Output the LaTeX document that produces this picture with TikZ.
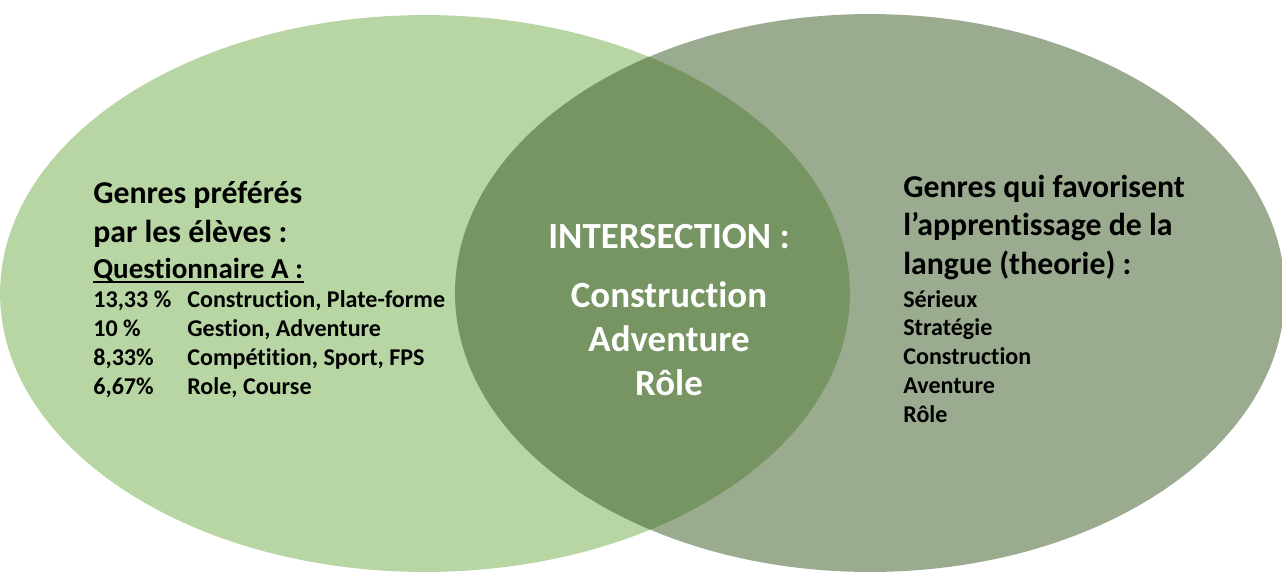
\documentclass[tikz,border=0pt]{standalone}
\usepackage{fontspec}
\setmainfont{Carlito}[Ligatures={TeX,NoCommon}]
\usetikzlibrary{positioning}

\definecolor{leftgreen}{RGB}{184,214,164}
\definecolor{rightgreen}{RGB}{154,171,143}
\definecolor{midgreen}{RGB}{119,149,98}

\begin{document}
\begin{tikzpicture}[x=0.02cm, y=-0.02cm,
                    head/.style={anchor=base west, inner sep=0, font=\fontsize{18.1}{22}\selectfont\bfseries},
                    subhead/.style={anchor=base west, inner sep=0, font=\fontsize{16.5}{20}\selectfont\bfseries},
                    item/.style={anchor=base west, inner sep=0, font=\fontsize{13.7}{16}\selectfont\bfseries},
                    midtext/.style={anchor=base, inner sep=0, text=white, font=\fontsize{21}{25}\selectfont\bfseries}
                    ]
    \useasboundingbox (0,0) rectangle (1282,572);
    %set centres
    \coordinate (Lc) at (425,293.5);
    \coordinate (Rc) at (870,293);

    %sets
    \fill[leftgreen]  (Lc) ellipse [x radius=8.5cm, y radius=5.57cm];
    \fill[rightgreen] (Rc) ellipse [x radius=8.3cm, y radius=5.58cm];
    \begin{scope}
        \clip (Lc) ellipse [x radius=8.5cm, y radius=5.57cm];
        \fill[midgreen] (Rc) ellipse [x radius=8.3cm, y radius=5.58cm];
    \end{scope}

    %left set
    \node[head]    at (93,203) (Lh1) {Genres préférés};
    \node[head]    at (93,242) (Lh2) {par les élèves :};
    \node[subhead] at (93,278) (Lq)  {Questionnaire A :};
    \draw[line width=1.1pt] (Lq.base west) ++(0,4) coordinate (Lu) -- (Lu -| Lq.east);
    \foreach \p/\g [count=\i] in {{13,33 \%}/{Construction, Plate-forme},
                                  {10 \%}/{Gestion, Adventure},
                                  {8,33\%}/{Compétition, Sport, FPS},
                                  {6,67\%}/{Role, Course}}{
        \node[item] at (93,{307+29.3*(\i-1)})  (Lp\i) {\p};
        \node[item] at (187,{307+29.3*(\i-1)}) (Lg\i) {\g};
    }

    %intersection
    \node[midtext] at (669,248) (Mh) {INTERSECTION :};
    \node[midtext] at (669,307) (M1) {Construction};
    \node[midtext] at (669,351) (M2) {Adventure};
    \node[midtext] at (669,395) (M3) {Rôle};

    %right set
    \node[head] at (903,197) (Rh1) {Genres qui favorisent};
    \node[head] at (903,235) (Rh2) {l’apprentissage de la};
    \node[head] at (903,274) (Rh3) {langue (theorie) :};
    \foreach \g [count=\i] in {Sérieux, Stratégie, Construction, Aventure, Rôle}{
        \node[item] at (903,{307+28.8*(\i-1)}) (Rg\i) {\g};
    }
\end{tikzpicture}
\end{document}
